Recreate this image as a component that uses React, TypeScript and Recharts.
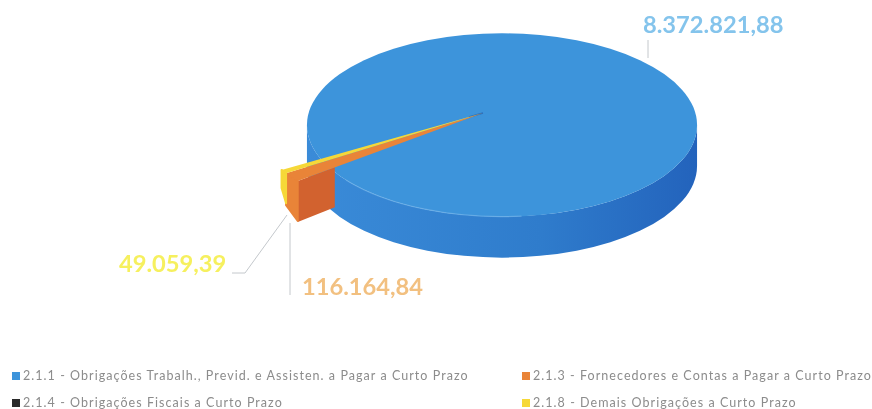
import React from "react";
import { PieChart, Pie, Legend } from "recharts";

const categories = [
  "2.1.1 - Obrigações Trabalh., Previd. e Assisten. a Pagar a Curto Prazo",
  "2.1.3 - Fornecedores e Contas a Pagar a Curto Prazo",
  "2.1.4 - Obrigações Fiscais a Curto Prazo",
  "2.1.8 - Demais Obrigações a Curto Prazo",
];
const values = [8372821.88, 116164.84, 0, 49059.39];
const valueLabels = ["8.372.821,88", "116.164,84", "", "49.059,39"];
const colors = ["#3D94DB", "#E98438", "#2A2A2A", "#F6D838"];
const labelColors = ["#84C4EC", "#F2C080", "#888888", "#F6F05E"];

const data = categories.map((name, i) => ({ name, value: values[i], fill: colors[i] }));

const SQUASH = 0.47;
const DISK = 0.83;
const DEPTH = 41;
const OFF_X = 19;
const OFF_Y = 12;
const RAD = Math.PI / 180;

const pt = (cx: number, cy: number, r: number, a: number): [number, number] => [
  cx + r * Math.cos(a * RAD),
  cy - r * SQUASH * Math.sin(a * RAD),
];
const poly = (p: [number, number][]) => p.map((q) => q.join(",")).join(" ");

function Slice(props: any) {
  const { cx, cy, outerRadius: R, startAngle, endAngle, fill } = props;
  const span = Math.abs(endAngle - startAngle);
  if (span === 0) return null;
  if (span > 180) {
    const rx = R * DISK;
    const ry = R * DISK * SQUASH;
    const ex = cx + OFF_X;
    const ey = cy + OFF_Y;
    const side = `M${ex - rx},${ey} A${rx},${ry} 0 0 0 ${ex + rx},${ey} L${ex + rx},${ey + DEPTH} A${rx},${ry} 0 0 1 ${ex - rx},${ey + DEPTH} Z`;
    return (
      <g>
        <path d={side} fill="url(#blueSide)" />
        <ellipse cx={ex} cy={ey} rx={rx} ry={ry} fill={fill} />
        <path
          d={`M${ex - rx * 0.8},${ey + ry * 0.6} A${rx},${ry} 0 0 0 ${ex + rx * 0.1},${ey + ry * 0.995}`}
          fill="none"
          stroke="#6DB1E8"
          strokeWidth={1.2}
          opacity={0.7}
        />
        <path
          d={`M${cx},${cy} L${cx - 14},${cy + 4}`}
          stroke="#2A6FBE"
          strokeWidth={1.5}
          fill="none"
        />
      </g>
    );
  }
  const hi = Math.max(startAngle, endAngle);
  const lo = Math.min(startAngle, endAngle);
  const isLarge = span > 3;
  const a = pt(cx, cy, R, lo);
  const b = pt(cx, cy, R, hi);
  const c = pt(cx, cy, R * 0.8, hi);
  const down = (p: [number, number], d = DEPTH): [number, number] => [p[0], p[1] + d];
  return (
    <g>
      {isLarge ? (
        <polygon points={poly([b, c, down(c, 40), down(b)])} fill="#D2622F" />
      ) : null}
      <polygon
        points={poly([a, b, down(b, isLarge ? DEPTH - 1 : 30), down(a, isLarge ? 32 : 18)])}
        fill={fill}
        stroke={fill}
        strokeWidth={2}
        strokeLinejoin="round"
      />
      <polygon points={poly([[cx, cy], a, b])} fill={fill} />
    </g>
  );
}

function renderLabel(props: any) {
  const { cx, cy, index } = props;
  const text = valueLabels[index];
  if (!text) return null;
  const spots: Record<number, { dx: number; dy: number; line: [number, number][] }> = {
    0: { dx: 160, dy: -80, line: [[165, -73], [165, -55]] },
    1: { dx: -181, dy: 182, line: [[-193, 182], [-193, 110]] },
    3: { dx: -364, dy: 159, line: [[-251, 160], [-238, 160], [-196, 102]] },
  };
  const s = spots[index];
  return (
    <g>
      <polyline
        points={s.line.map(([x, y]) => `${cx + x},${cy + y}`).join(" ")}
        fill="none"
        stroke="#C4C8CC"
        strokeWidth={1}
      />
      <text
        x={cx + s.dx}
        y={cy + s.dy}
        fill={labelColors[index]}
        fontFamily="Lato"
        fontWeight={700}
        fontSize={23.7}
      >
        {text}
      </text>
    </g>
  );
}

function LegendBox({ payload }: any) {
  return (
    <div
      style={{
        display: "grid",
        gridTemplateColumns: "510px 350px",
        gridAutoRows: "27px",
        fontFamily: "Lato",
        fontSize: 12.5,
        letterSpacing: 1.05,
        color: "#8C8C8C",
        whiteSpace: "nowrap",
      }}
    >
      {(payload || []).map((p: any) => (
        <div key={p.value} style={{ display: "flex", alignItems: "center", gap: 3 }}>
          <span style={{ width: 8, height: 8, background: p.color, display: "inline-block" }} />
          <span>{p.value}</span>
        </div>
      ))}
    </div>
  );
}

export default function App() {
  return (
    <div style={{ position: "absolute", left: 0, top: 0, filter: "blur(0.4px)" }}>
      <PieChart width={872} height={409} margin={{ top: 0, right: 0, bottom: 0, left: 0 }}>
        <defs>
          <linearGradient id="blueSide" x1="0" y1="0" x2="1" y2="0">
            <stop offset="0" stopColor="#3A8BD8" />
            <stop offset="0.6" stopColor="#2F7CCC" />
            <stop offset="1" stopColor="#2363BC" />
          </linearGradient>
        </defs>
        <Pie
          data={data}
          dataKey="value"
          nameKey="name"
          cx={483}
          cy={113}
          innerRadius={0}
          outerRadius={235}
          startAngle={211}
          endAngle={-149}
          stroke="none"
          shape={Slice}
          label={renderLabel}
          labelLine={false}
          isAnimationActive={false}
        />
        <Legend
          content={<LegendBox />}
          wrapperStyle={{ position: "absolute", left: 12, top: 362, width: 860, height: 47 }}
        />
      </PieChart>
    </div>
  );
}
